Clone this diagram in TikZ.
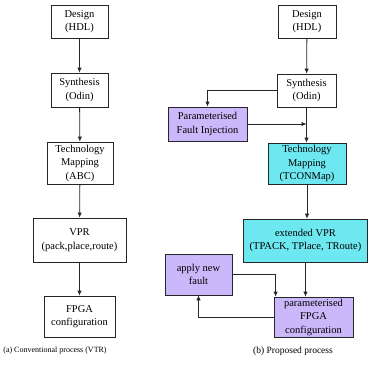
\documentclass[tikz,border=0pt]{standalone}
\usepackage{fontspec}
\setmainfont{Liberation Serif}
\usetikzlibrary{arrows.meta}
\definecolor{cyanfill}{RGB}{110,232,240}
\definecolor{lavfill}{RGB}{202,184,250}
\begin{document}
\begin{tikzpicture}[x=1pt,y=-1pt,
  box/.style={draw=black!85,line width=0.8pt,align=center,inner sep=0pt,
    font=\fontsize{10.5}{13.5}\selectfont},
  arr/.style={draw=black!85,line width=0.8pt,-{Latex[length=5pt,width=4.5pt]}},
  captext/.style={inner sep=0pt}]
\useasboundingbox (0,0) rectangle (368,370);
% left column
\node[box,minimum width=57pt,minimum height=33pt] (d1) at (79.5,21.5) {Design\\(HDL)};
\node[box,minimum width=57pt,minimum height=34pt] (s1) at (79.5,90) {Synthesis\\(Odin)};
\node[box,minimum width=66pt,minimum height=42pt] (t1) at (80,163) {Technology\\Mapping\\(ABC)};
\node[box,minimum width=93pt,minimum height=44pt] (v1) at (79.5,240) {VPR\\(pack,place,route)};
\node[box,minimum width=71pt,minimum height=41pt] (f1) at (79.5,316.5) {FPGA\\configuration};
\node[captext,font=\fontsize{8}{10}\selectfont] (ca) at (55,351) {(a) Conventional process (VTR)};
\draw[arr] (d1) -- (s1);
\draw[arr] (s1) -- (t1);
\draw[arr] (t1) -- (v1);
\draw[arr] (v1) -- (f1);
% right column
\node[box,minimum width=58pt,minimum height=33pt] (d2) at (307,21.5) {Design\\(HDL)};
\node[box,minimum width=59pt,minimum height=33pt] (s2) at (306.5,90.5) {Synthesis\\(Odin)};
\node[box,fill=lavfill,minimum width=79pt,minimum height=34pt] (pf) at (207.5,124) {Parameterised\\Fault Injection};
\node[box,fill=cyanfill,minimum width=78pt,minimum height=41pt] (t2) at (307,163.5) {Technology\\Mapping\\(TCONMap)};
\node[box,fill=cyanfill,minimum width=124pt,minimum height=43pt] (v2) at (305.5,240.5) {extended VPR\\(TPACK, TPlace, TRoute)};
\node[box,fill=lavfill,minimum width=67pt,minimum height=41pt] (an) at (198.5,274.5) {apply new\\fault};
\node[box,fill=lavfill,minimum width=79pt,minimum height=40pt] (pc) at (313.5,317) {parameterised\\FPGA\\configuration};
\node[captext,font=\fontsize{9.5}{11}\selectfont] (cb) at (293,351) {(b) Proposed process};
\draw[arr] (d2) -- (s2);
\draw[arr] (s2.south) -- (s2.south |- t2.north);
\draw[arr] (s2.west) -| (pf.north);
\draw[arr] (pf.east) -- (pf.east -| s2.south);
\draw[arr] (t2.south) -- (t2.south |- v2.north);
\draw[arr] (v2.south) -- (v2.south |- pc.north);
\draw[arr] (an.east) -| ([xshift=2pt]pc.north west);
\draw[arr] (pc.west) -| (an.south);
\end{tikzpicture}
\end{document}
